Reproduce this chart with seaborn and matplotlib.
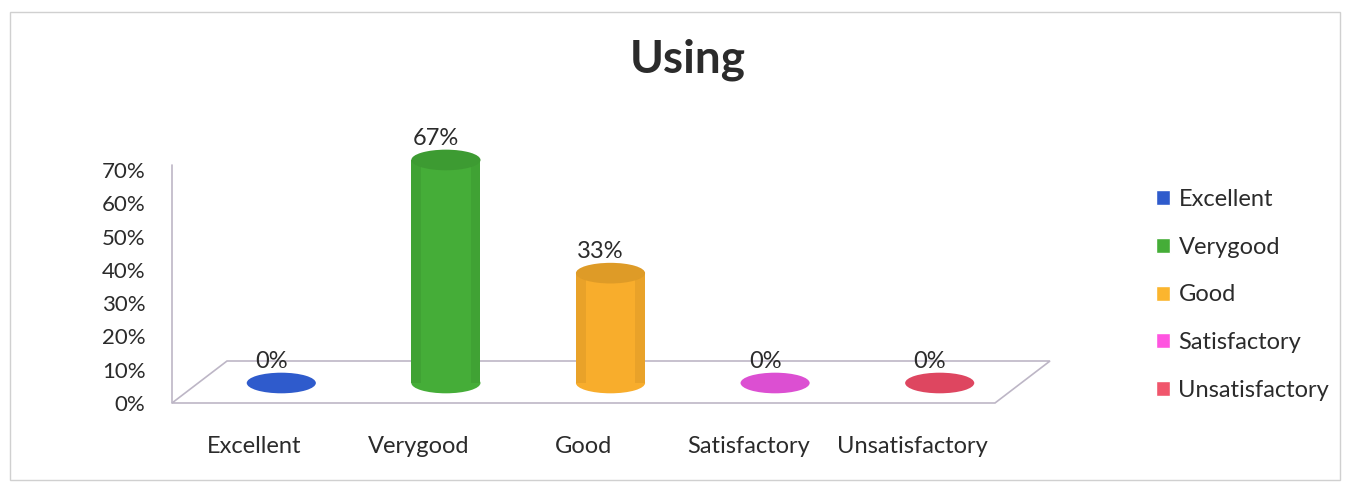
import matplotlib
matplotlib.use("Agg")
import matplotlib.pyplot as plt
from matplotlib.patches import Ellipse, Patch, Polygon, Rectangle
from matplotlib.transforms import ScaledTranslation, IdentityTransform
import seaborn as sns
import pandas as pd

# data
categories = ["Excellent", "Verygood", "Good", "Satisfactory", "Unsatisfactory"]
values = [0.00, 0.67, 0.33, 0.00, 0.00]
value_labels = ["0%", "67%", "33%", "0%", "0%"]
colors = ["#2f5bcc", "#45ad38", "#f8ad2c", "#dc4fd2", "#de4660"]
legend_colors = ["#2f5bcc", "#45ad38", "#fbb52e", "#ff55e0", "#f0566c"]
yticks = [0, 0.1, 0.2, 0.3, 0.4, 0.5, 0.6, 0.7]

df = pd.DataFrame({"category": categories, "share": values})

sns.set_style("white")
plt.rcParams["font.family"] = ["Lato", "DejaVu Sans"]
text_color = "#2b2b2b"
line_color = "#bdb6c6"

fig = plt.figure(figsize=(13.46, 4.86), dpi=100)
ax = fig.add_axes([172 / 1346, 83 / 486, 823 / 1346, 233 / 486])

# bars -> cylinders sitting in the middle of the floor depth
mid = ScaledTranslation(0.27, 0.20, fig.dpi_scale_trans)
sns.barplot(data=df, x="category", y="share", hue="category",
            palette=colors, dodge=False, width=0.42, legend=False,
            saturation=1, ax=ax, zorder=2)

ax.set_xlim(-0.5, 4.5)
ax.set_ylim(0, 0.7)

# floor of the fake 3d box (front edge on y=0, back edge shifted up/right)
back = ScaledTranslation(0.55, 0.42, fig.dpi_scale_trans)
front_pts = ax.transData.transform([[-0.5, 0], [4.5, 0]])
back_pts = (ax.transData + back).transform([[-0.5, 0], [4.5, 0]])
corners = [front_pts[0], front_pts[1], back_pts[1], back_pts[0]]
fig.add_artist(Polygon(corners, closed=True, fill=False, edgecolor=line_color,
                       linewidth=1.2, transform=IdentityTransform(), zorder=0))
ax.plot([-0.5, -0.5], [0, 0.715], color=line_color, linewidth=1.2,
        clip_on=False, zorder=0)

cap_h = 0.062
for i, bar in enumerate(ax.patches[:len(categories)]):
    bar.set_transform(ax.transData + mid)
    bar.set_clip_on(False)
    bar.set_edgecolor("none")
    w = bar.get_width()
    cx = bar.get_x() + w / 2
    top = bar.get_height()
    c = colors[i]
    ax.add_patch(Ellipse((cx, 0), w, cap_h, facecolor=c, edgecolor="none",
                         transform=ax.transData + mid, clip_on=False, zorder=1.9))
    if top > 0:
        # slightly darker sides to suggest a rounded body
        for x0 in (cx - w / 2, cx + w / 2 - w * 0.14):
            ax.add_patch(Rectangle((x0, 0), w * 0.14, top, facecolor="black",
                                   alpha=0.06, edgecolor="none",
                                   transform=ax.transData + mid, clip_on=False, zorder=2.1))
        ax.add_patch(Ellipse((cx, top), w, cap_h, facecolor=c,
                             edgecolor="none", transform=ax.transData + mid,
                             clip_on=False, zorder=2.2))
        ax.add_patch(Ellipse((cx, top), w, cap_h, facecolor="black",
                             alpha=0.10, edgecolor="none", transform=ax.transData + mid,
                             clip_on=False, zorder=2.3))
    lab_off = ScaledTranslation(0.17, 0.31, fig.dpi_scale_trans)
    ax.text(cx, top, value_labels[i], ha="center", va="bottom", fontsize=17,
            color=text_color, transform=ax.transData + lab_off, zorder=3)

ax.set_yticks(yticks)
ax.set_yticklabels([f"{int(round(t * 100))}%" for t in yticks])
ax.set_xlabel("")
ax.set_ylabel("")
ax.tick_params(axis="y", length=0, pad=19, labelsize=16, labelcolor=text_color)
ax.tick_params(axis="x", length=0, pad=24, labelsize=17, labelcolor=text_color)
for s in ax.spines.values():
    s.set_visible(False)
ax.patch.set_visible(False)

fig.text(688 / 1346, 1 - 60 / 486, "Using", ha="center", va="center",
         fontsize=33, fontweight="bold", color=text_color)

handles = [Patch(facecolor=c, label=l) for c, l in zip(legend_colors, categories)]
fig.legend(handles=handles, loc="upper left", bbox_to_anchor=(1156 / 1346, 1 - 189 / 486),
           frameon=False, fontsize=17, handlelength=0.6, handleheight=0.6,
           handletextpad=0.35, labelspacing=1.13, borderpad=0, borderaxespad=0,
           labelcolor=text_color)

# outer chart frame
fig.add_artist(Rectangle((10 / 1346, 6 / 486), 1330 / 1346, 468 / 486, fill=False,
                         edgecolor="#d0d0d0", linewidth=1.0, transform=fig.transFigure))

fig.savefig("out.png", dpi=100)
